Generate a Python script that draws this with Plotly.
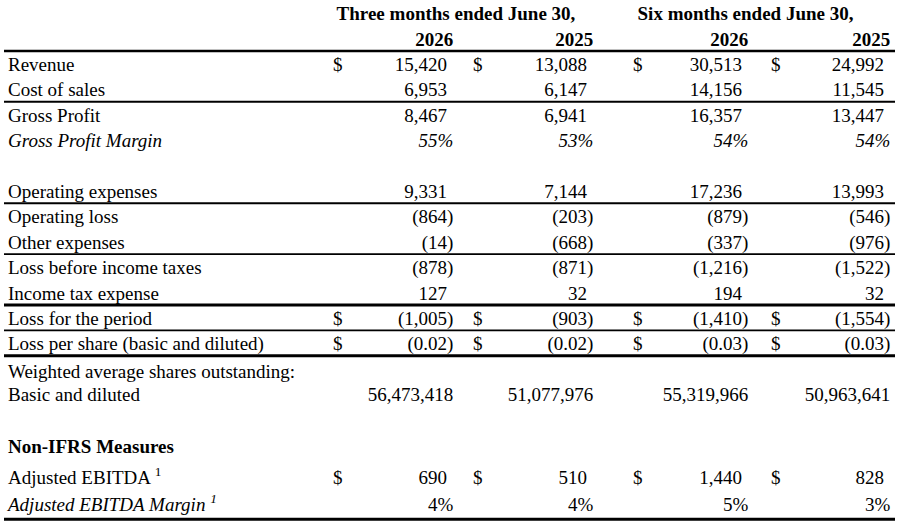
import plotly.graph_objects as go

# Column headers
period_groups = ["Three months ended June 30,", "Six months ended June 30,"]
periods = ["2026", "2025", "2026", "2025"]

# Statement values (in thousands, except per-share, shares and %)
revenue = [15420, 13088, 30513, 24992]
cost_of_sales = [6953, 6147, 14156, 11545]
gross_profit = [8467, 6941, 16357, 13447]
gross_profit_margin = [55, 53, 54, 54]
operating_expenses = [9331, 7144, 17236, 13993]
operating_loss = [-864, -203, -879, -546]
other_expenses = [-14, -668, -337, -976]
loss_before_taxes = [-878, -871, -1216, -1522]
income_tax_expense = [127, 32, 194, 32]
loss_for_period = [-1005, -903, -1410, -1554]
loss_per_share = [-0.02, -0.02, -0.03, -0.03]
weighted_shares = [56473418, 51077976, 55319966, 50963641]
adjusted_ebitda = [690, 510, 1440, 828]
adjusted_ebitda_margin = [4, 4, 5, 3]

# row: (label, values, kind, has dollar sign)
rows = [
    (None, None, "group", False),
    (None, None, "year", False),
    ("Revenue", revenue, "amt", True),
    ("Cost of sales", cost_of_sales, "amt", False),
    ("Gross Profit", gross_profit, "amt", False),
    ("<i>Gross Profit Margin</i>", gross_profit_margin, "pct_i", False),
    ("", None, None, False),
    ("Operating expenses", operating_expenses, "amt", False),
    ("Operating loss", operating_loss, "amt", False),
    ("Other expenses", other_expenses, "amt", False),
    ("Loss before income taxes", loss_before_taxes, "amt", False),
    ("Income tax expense", income_tax_expense, "amt", False),
    ("Loss for the period", loss_for_period, "amt", True),
    ("Loss per share (basic and diluted)", loss_per_share, "eps", True),
    ("Weighted average shares outstanding:", None, None, False),
    ("Basic and diluted", weighted_shares, "shares", False),
    ("", None, None, False),
    ("<b>Non-IFRS Measures</b>", None, None, False),
    ("Adjusted EBITDA <sup>1</sup>", adjusted_ebitda, "amt", True),
    ("<i>Adjusted EBITDA Margin <sup>1</sup></i>", adjusted_ebitda_margin, "pct", False),
]

# layout / style
FONT = dict(family="Liberation Serif", size=19, color="black")
BOLD = dict(family="Liberation Serif", size=19, color="black", weight="bold")
label_x = 8
dollar_x = [333, 473, 633, 771]
digit_x = [447, 587, 742, 884]
paren_w = 6.3
group_x = [456, 745.5]
text_dy = 2

gaps = [25.4] * 13 + [27.5, 23.5, 26, 26, 30.5, 27.5]
row_y = [13.5]
for g in gaps:
    row_y.append(row_y[-1] + g)

# lines under rows: (row index, offset below row, width)
rules = [(1, 12, 2.5), (3, 12, 2), (7, 12, 2), (9, 12, 1.6), (11, 12, 3),
         (12, 12, 1.8), (13, 12, 3), (19, 14.5, 3)]


def fmt(v, kind):
    if kind == "eps":
        s = f"{abs(v):.2f}"
    elif kind in ("pct", "pct_i"):
        s = f"{v}%"
    else:
        s = f"{abs(v):,}"
    if v < 0:
        s = f"({s})"
    if kind == "pct_i":
        s = f"<i>{s}</i>"
    return s


fig = go.Figure()

# labels
lab_x, lab_y, lab_t = [], [], []
for i, (label, vals, kind, dollar) in enumerate(rows):
    if label:
        lab_x.append(label_x)
        lab_y.append(row_y[i] + text_dy)
        lab_t.append(label)
fig.add_trace(go.Scatter(x=lab_x, y=lab_y, text=lab_t, mode="text",
                         textposition="middle right", textfont=FONT,
                         hoverinfo="skip", showlegend=False))

# group headers
fig.add_trace(go.Scatter(x=group_x, y=[row_y[0] + text_dy] * 2, text=period_groups,
                         mode="text", textposition="middle center", textfont=BOLD,
                         hoverinfo="skip", showlegend=False))

# year headers
fig.add_trace(go.Scatter(x=[x + paren_w for x in digit_x], y=[row_y[1] + text_dy] * 4,
                         text=periods, mode="text", textposition="middle left",
                         textfont=BOLD, hoverinfo="skip", showlegend=False))

# dollar signs
d_x, d_y = [], []
for i, (label, vals, kind, dollar) in enumerate(rows):
    if dollar:
        for c in range(4):
            d_x.append(dollar_x[c])
            d_y.append(row_y[i] + text_dy)
fig.add_trace(go.Scatter(x=d_x, y=d_y, text=["$"] * len(d_x), mode="text",
                         textposition="middle right", textfont=FONT,
                         hoverinfo="skip", showlegend=False))

# values, one trace per period column
for c in range(4):
    xs, ys, ts = [], [], []
    for i, (label, vals, kind, dollar) in enumerate(rows):
        if vals is None:
            continue
        v = vals[c]
        outer = kind in ("pct", "pct_i", "shares") or v < 0
        xs.append(digit_x[c] + (paren_w if outer else 0))
        ys.append(row_y[i] + text_dy)
        ts.append(fmt(v, kind))
    fig.add_trace(go.Scatter(x=xs, y=ys, text=ts, mode="text", name=periods[c],
                             textposition="middle left", textfont=FONT,
                             hoverinfo="skip", showlegend=False))

for i, off, w in rules:
    y = row_y[i] + off
    fig.add_shape(type="line", x0=4, x1=895, y0=y, y1=y, xref="x", yref="y",
                  line=dict(color="black", width=w))

fig.update_layout(
    width=900, height=527,
    margin=dict(l=0, r=0, t=0, b=0),
    paper_bgcolor="white", plot_bgcolor="white",
    xaxis=dict(range=[0, 900], visible=False, fixedrange=True),
    yaxis=dict(range=[527, 0], visible=False, fixedrange=True),
)

fig.write_html("out.html", config={"displayModeBar": False},
               post_script="document.body.style.margin='0';")
